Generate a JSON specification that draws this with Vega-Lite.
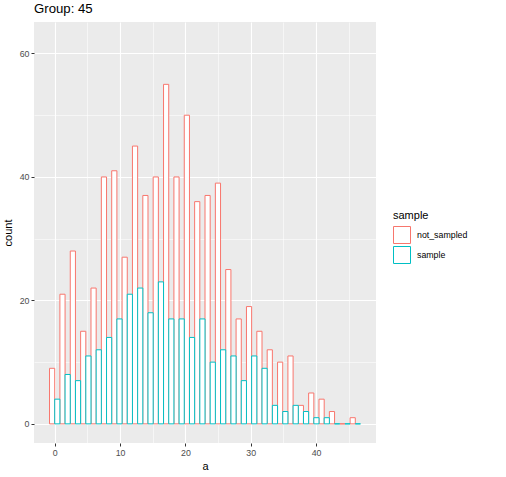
{
  "$schema": "https://vega.github.io/schema/vega-lite/v6.json",
  "width": 342,
  "height": 421,
  "autosize": "none",
  "padding": {"left": 34, "top": 22, "right": 130, "bottom": 34},
  "background": "white",
  "title": {"text": "Group: 45", "anchor": "start", "frame": "group", "font": "Liberation Sans", "fontSize": 13.2, "fontWeight": "normal", "color": "black", "offset": 6},
  "config": {
    "view": {"fill": "#EBEBEB", "stroke": null},
    "font": "Liberation Sans",
    "axis": {"domain": false, "labelFont": "Liberation Sans", "labelFontSize": 8.8, "labelColor": "#4D4D4D", "tickColor": "#333333", "tickSize": 3, "tickWidth": 1, "gridColor": "white", "titleFont": "Liberation Sans", "titleFontSize": 11, "titleFontWeight": "normal", "titleColor": "black"}
  },
  "data": {"values": [
    {"bin_start": -0.7931, "a": 0, "bin_end": 0.7931, "sample": "not_sampled", "count": 9},
    {"bin_start": 0.7931, "a": 1.5862, "bin_end": 2.3793, "sample": "not_sampled", "count": 21},
    {"bin_start": 2.3793, "a": 3.1724, "bin_end": 3.9655, "sample": "not_sampled", "count": 28},
    {"bin_start": 3.9655, "a": 4.7586, "bin_end": 5.5517, "sample": "not_sampled", "count": 15},
    {"bin_start": 5.5517, "a": 6.3448, "bin_end": 7.1379, "sample": "not_sampled", "count": 22},
    {"bin_start": 7.1379, "a": 7.931, "bin_end": 8.7241, "sample": "not_sampled", "count": 40},
    {"bin_start": 8.7241, "a": 9.5172, "bin_end": 10.3103, "sample": "not_sampled", "count": 41},
    {"bin_start": 10.3103, "a": 11.1034, "bin_end": 11.8966, "sample": "not_sampled", "count": 27},
    {"bin_start": 11.8966, "a": 12.6897, "bin_end": 13.4828, "sample": "not_sampled", "count": 45},
    {"bin_start": 13.4828, "a": 14.2759, "bin_end": 15.069, "sample": "not_sampled", "count": 37},
    {"bin_start": 15.069, "a": 15.8621, "bin_end": 16.6552, "sample": "not_sampled", "count": 40},
    {"bin_start": 16.6552, "a": 17.4483, "bin_end": 18.2414, "sample": "not_sampled", "count": 55},
    {"bin_start": 18.2414, "a": 19.0345, "bin_end": 19.8276, "sample": "not_sampled", "count": 40},
    {"bin_start": 19.8276, "a": 20.6207, "bin_end": 21.4138, "sample": "not_sampled", "count": 50},
    {"bin_start": 21.4138, "a": 22.2069, "bin_end": 23.0, "sample": "not_sampled", "count": 36},
    {"bin_start": 23.0, "a": 23.7931, "bin_end": 24.5862, "sample": "not_sampled", "count": 37},
    {"bin_start": 24.5862, "a": 25.3793, "bin_end": 26.1724, "sample": "not_sampled", "count": 39},
    {"bin_start": 26.1724, "a": 26.9655, "bin_end": 27.7586, "sample": "not_sampled", "count": 25},
    {"bin_start": 27.7586, "a": 28.5517, "bin_end": 29.3448, "sample": "not_sampled", "count": 17},
    {"bin_start": 29.3448, "a": 30.1379, "bin_end": 30.931, "sample": "not_sampled", "count": 19},
    {"bin_start": 30.931, "a": 31.7241, "bin_end": 32.5172, "sample": "not_sampled", "count": 15},
    {"bin_start": 32.5172, "a": 33.3103, "bin_end": 34.1034, "sample": "not_sampled", "count": 12},
    {"bin_start": 34.1034, "a": 34.8966, "bin_end": 35.6897, "sample": "not_sampled", "count": 10},
    {"bin_start": 35.6897, "a": 36.4828, "bin_end": 37.2759, "sample": "not_sampled", "count": 11},
    {"bin_start": 37.2759, "a": 38.069, "bin_end": 38.8621, "sample": "not_sampled", "count": 3},
    {"bin_start": 38.8621, "a": 39.6552, "bin_end": 40.4483, "sample": "not_sampled", "count": 5},
    {"bin_start": 40.4483, "a": 41.2414, "bin_end": 42.0345, "sample": "not_sampled", "count": 4},
    {"bin_start": 42.0345, "a": 42.8276, "bin_end": 43.6207, "sample": "not_sampled", "count": 2},
    {"bin_start": 43.6207, "a": 44.4138, "bin_end": 45.2069, "sample": "not_sampled", "count": 0},
    {"bin_start": 45.2069, "a": 46.0, "bin_end": 46.7931, "sample": "not_sampled", "count": 1},
    {"bin_start": -0.7931, "a": 0, "bin_end": 0.7931, "sample": "sample", "count": 4},
    {"bin_start": 0.7931, "a": 1.5862, "bin_end": 2.3793, "sample": "sample", "count": 8},
    {"bin_start": 2.3793, "a": 3.1724, "bin_end": 3.9655, "sample": "sample", "count": 7},
    {"bin_start": 3.9655, "a": 4.7586, "bin_end": 5.5517, "sample": "sample", "count": 11},
    {"bin_start": 5.5517, "a": 6.3448, "bin_end": 7.1379, "sample": "sample", "count": 12},
    {"bin_start": 7.1379, "a": 7.931, "bin_end": 8.7241, "sample": "sample", "count": 14},
    {"bin_start": 8.7241, "a": 9.5172, "bin_end": 10.3103, "sample": "sample", "count": 17},
    {"bin_start": 10.3103, "a": 11.1034, "bin_end": 11.8966, "sample": "sample", "count": 21},
    {"bin_start": 11.8966, "a": 12.6897, "bin_end": 13.4828, "sample": "sample", "count": 22},
    {"bin_start": 13.4828, "a": 14.2759, "bin_end": 15.069, "sample": "sample", "count": 18},
    {"bin_start": 15.069, "a": 15.8621, "bin_end": 16.6552, "sample": "sample", "count": 23},
    {"bin_start": 16.6552, "a": 17.4483, "bin_end": 18.2414, "sample": "sample", "count": 17},
    {"bin_start": 18.2414, "a": 19.0345, "bin_end": 19.8276, "sample": "sample", "count": 17},
    {"bin_start": 19.8276, "a": 20.6207, "bin_end": 21.4138, "sample": "sample", "count": 14},
    {"bin_start": 21.4138, "a": 22.2069, "bin_end": 23.0, "sample": "sample", "count": 17},
    {"bin_start": 23.0, "a": 23.7931, "bin_end": 24.5862, "sample": "sample", "count": 10},
    {"bin_start": 24.5862, "a": 25.3793, "bin_end": 26.1724, "sample": "sample", "count": 12},
    {"bin_start": 26.1724, "a": 26.9655, "bin_end": 27.7586, "sample": "sample", "count": 11},
    {"bin_start": 27.7586, "a": 28.5517, "bin_end": 29.3448, "sample": "sample", "count": 7},
    {"bin_start": 29.3448, "a": 30.1379, "bin_end": 30.931, "sample": "sample", "count": 11},
    {"bin_start": 30.931, "a": 31.7241, "bin_end": 32.5172, "sample": "sample", "count": 9},
    {"bin_start": 32.5172, "a": 33.3103, "bin_end": 34.1034, "sample": "sample", "count": 3},
    {"bin_start": 34.1034, "a": 34.8966, "bin_end": 35.6897, "sample": "sample", "count": 2},
    {"bin_start": 35.6897, "a": 36.4828, "bin_end": 37.2759, "sample": "sample", "count": 3},
    {"bin_start": 37.2759, "a": 38.069, "bin_end": 38.8621, "sample": "sample", "count": 2},
    {"bin_start": 38.8621, "a": 39.6552, "bin_end": 40.4483, "sample": "sample", "count": 1},
    {"bin_start": 40.4483, "a": 41.2414, "bin_end": 42.0345, "sample": "sample", "count": 1},
    {"bin_start": 42.0345, "a": 42.8276, "bin_end": 43.6207, "sample": "sample", "count": 0},
    {"bin_start": 43.6207, "a": 44.4138, "bin_end": 45.2069, "sample": "sample", "count": 0},
    {"bin_start": 45.2069, "a": 46.0, "bin_end": 46.7931, "sample": "sample", "count": 0}
  ]},
  "resolve": {"axis": {"x": "independent", "y": "independent"}},
  "layer": [
    {
      "transform": [{"filter": "datum.sample === 'not_sampled'"}],
      "mark": {"type": "bar", "fill": "white", "strokeWidth": 1},
      "encoding": {
        "x": {"field": "bin_start", "type": "quantitative", "scale": {"domain": [-3.17, 49.17], "nice": false, "zero": false},
              "axis": {"orient": "bottom", "values": [5, 15, 25, 35, 45], "labels": false, "ticks": false, "domain": false, "title": null, "grid": true, "gridWidth": 0.55}},
        "x2": {"field": "a"},
        "y": {"field": "count", "type": "quantitative", "stack": null, "scale": {"domain": [-3.1, 65.1], "nice": false, "zero": false},
              "axis": {"orient": "left", "values": [10, 30, 50], "labels": false, "ticks": false, "domain": false, "title": null, "grid": true, "gridWidth": 0.55}},
        "y2": {"datum": 0},
        "stroke": {"field": "sample", "type": "nominal",
                   "scale": {"domain": ["not_sampled", "sample"], "range": ["#F8766D", "#00BFC4"]},
                   "legend": {"title": "sample", "orient": "none", "legendX": 359, "legendY": 188, "titleFont": "Liberation Sans", "titleFontSize": 11, "titleFontWeight": "normal", "titleColor": "black", "titlePadding": 5, "labelFont": "Liberation Sans", "labelFontSize": 8.8, "labelColor": "black", "labelOffset": 6, "symbolType": "square", "symbolSize": 289, "symbolFillColor": "white", "symbolStrokeWidth": 1, "rowPadding": -4}}
      }
    },
    {
      "transform": [{"filter": "datum.sample === 'sample'"}],
      "mark": {"type": "bar", "fill": "white", "strokeWidth": 1},
      "encoding": {
        "x": {"field": "a", "type": "quantitative",
              "axis": {"orient": "bottom", "values": [0, 10, 20, 30, 40], "title": "a", "grid": true, "gridWidth": 1.1, "labelPadding": 2, "titlePadding": 4}},
        "x2": {"field": "bin_end"},
        "y": {"field": "count", "type": "quantitative", "stack": null,
              "axis": {"orient": "left", "values": [0, 20, 40, 60], "title": "count", "grid": true, "gridWidth": 1.1, "labelPadding": 2, "titlePadding": 6}},
        "y2": {"datum": 0},
        "stroke": {"field": "sample", "type": "nominal"}
      }
    }
  ]
}
